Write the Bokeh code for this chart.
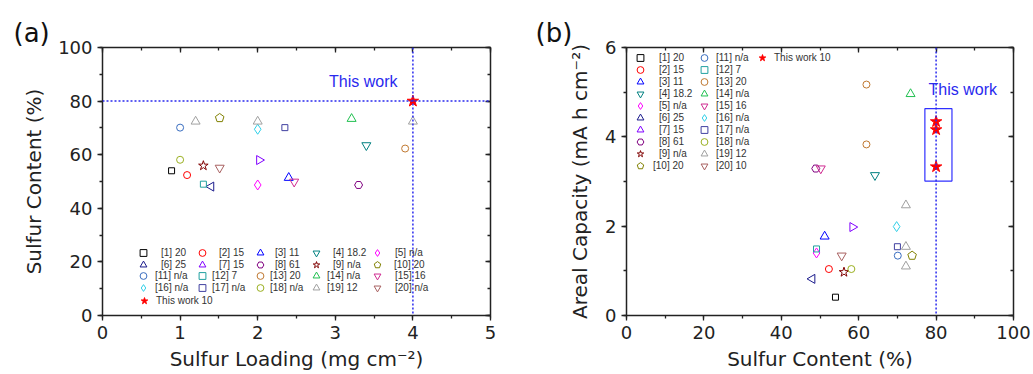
import numpy as np
from bokeh.plotting import figure
from bokeh.models import (Range1d, LinearAxis, SingleIntervalTicker, Span, Label,
                          Legend, LegendItem, CustomJSTickFormatter, Title)
from bokeh.layouts import row
from bokeh.embed import file_html
from bokeh.resources import INLINE

# ---------------- data ----------------
labels_a = ["[1] 20", "[2] 15", "[3] 11", "[4] 18.2", "[5] n/a",
            "[6] 25", "[7] 15", "[8] 61", "[9] n/a", "[10] 20",
            "[11] n/a", "[12] 7", "[13] 20", "[14] n/a", "[15] 16",
            "[16] n/a", "[17] n/a", "[18] n/a", "[19] 12", "[20] n/a"]
labels_b = ["[1] 20", "[2] 15", "[3] 11", "[4] 18.2", "[5] n/a",
            "[6] 25", "[7] 15", "[8] 61", "[9] n/a", "[10] 20",
            "[11] n/a", "[12] 7", "[13] 20", "[14] n/a", "[15] 16",
            "[16] n/a", "[17] n/a", "[18] n/a", "[19] 12", "[20] 10"]
this_work_label = "This work 10"

markers = ["square", "circle", "triangle", "inverted_triangle", "diamond",
           "triangle_left", "triangle_right", "hex", "star", "pentagon",
           "circle", "square", "circle", "triangle", "inverted_triangle",
           "diamond", "square", "circle", "triangle", "inverted_triangle"]
colors = ["#000000", "#FF0000", "#0000FF", "#008080", "#FF00FF",
          "#1A1A8C", "#8000FF", "#800080", "#800000", "#808000",
          "#3A6EC0", "#20A0A0", "#C07830", "#20C050", "#D02A90",
          "#30D0E8", "#4040A0", "#9AB020", "#A0A0A0", "#A86060"]

# panel (a): sulfur loading (mg cm-2) vs sulfur content (%)
loading_a = [[0.89], [1.09], [2.40], [3.40], [2.00],
             [1.40], [2.02], [3.30], [1.30], [1.51],
             [1.00], [1.30], [3.90], [3.21], [2.47],
             [2.00], [2.35], [1.00], [1.20, 2.00, 4.00], [1.51]]
content_a = [[54.0], [52.4], [51.4], [63.5], [48.7],
             [48.1], [58.0], [48.7], [55.9], [73.7],
             [70.1], [49.0], [62.3], [73.4], [49.9],
             [69.5], [70.1], [58.1], [72.4, 72.4, 72.4], [55.1]]
tw_loading = [4.0]
tw_content_a = [80.0]

# panel (b): sulfur content (%) vs areal capacity (mA h cm-2)
content_b = [[54.0], [52.3], [51.2], [64.2], [49.1],
             [48.0], [58.4], [48.9], [56.2], [73.8],
             [70.1], [49.1], [62.0, 62.0], [73.4], [50.2],
             [69.8], [70.0], [58.1], [72.2, 72.2, 72.2], [55.6]]
capacity_b = [[0.41], [1.04], [1.77], [3.14], [1.40],
              [0.82], [1.98], [3.29], [0.97], [1.34],
              [1.34], [1.49], [5.17, 3.83], [4.96], [3.29],
              [1.99], [1.54], [1.04], [2.47, 1.54, 1.10], [1.34]]
tw_content_b = [80.0, 80.0, 80.0]
tw_capacity = [4.34, 4.16, 3.33]
tw_box_x = [77.1, 84.1]
tw_box_y = [3.01, 4.63]

ref_loading_line = 4.0
ref_content_line = 80.0

# ---------------- styling ----------------
TICK_FONT = "DejaVu Sans"
AX_COLOR = "#222222"
BLUE = "#2A2AEE"
SIZES = {"square": 6, "circle": 7, "triangle": 9, "inverted_triangle": 9,
         "diamond": 10, "triangle_left": 9, "triangle_right": 9, "hex": 8,
         "star": 10, "pentagon": 8}


def add_series(p, xs, ys, kind, color):
    size = SIZES[kind]
    if kind == "pentagon":
        try:
            return p.ngon(x=xs, y=ys, radius=4.5, radius_units="screen", n=5,
                          fill_color=None, line_color=color, line_width=1)
        except Exception:
            kind = "hex"
    angle = 0.0
    mk = kind
    if kind == "triangle_left":
        mk, angle = "triangle", np.pi / 2
    elif kind == "triangle_right":
        mk, angle = "triangle", -np.pi / 2
    return p.scatter(x=xs, y=ys, marker=mk, size=size, angle=angle,
                     fill_color=None, line_color=color, line_width=1)


def style_axis(ax, inner=False):
    ax.axis_line_color = AX_COLOR
    ax.axis_line_width = 1.5
    ax.major_tick_line_color = AX_COLOR
    ax.minor_tick_line_color = AX_COLOR
    ax.major_tick_line_width = 1.3
    ax.minor_tick_line_width = 1.3
    if inner:
        ax.major_tick_in, ax.major_tick_out = 5, 0
        ax.minor_tick_in, ax.minor_tick_out = 3, 0
        ax.formatter = CustomJSTickFormatter(code="return ''")
        ax.major_label_text_font_size = "6px"
        ax.major_label_standoff = 0
    else:
        ax.major_tick_in, ax.major_tick_out = 0, 5
        ax.minor_tick_in, ax.minor_tick_out = 0, 3
        ax.major_label_text_font = TICK_FONT
        ax.major_label_text_font_size = "18px"
        ax.major_label_text_color = AX_COLOR
        ax.axis_label_text_font = TICK_FONT
        ax.axis_label_text_font_size = "20px"
        ax.axis_label_text_font_style = "normal"
        ax.axis_label_text_color = AX_COLOR


def make_fig(xr, yr, xint, yint, width, mbl, mbr, mbt, mbb, xlabel, ylabel, tag, tag_off):
    p = figure(width=width, height=374, x_range=Range1d(*xr), y_range=Range1d(*yr),
               output_backend="svg", toolbar_location=None,
               min_border_left=mbl, min_border_right=mbr,
               min_border_top=mbt, min_border_bottom=mbb)
    p.title = Title(text=tag, align="left", offset=tag_off, standoff=0,
                    text_font=TICK_FONT, text_font_size="26px", text_font_style="normal",
                    text_color="#111111")
    p.grid.visible = False
    p.outline_line_color = None
    p.xaxis.ticker = SingleIntervalTicker(interval=xint, num_minor_ticks=2)
    p.yaxis.ticker = SingleIntervalTicker(interval=yint, num_minor_ticks=2)
    style_axis(p.xaxis[0])
    style_axis(p.yaxis[0])
    p.xaxis.major_label_standoff = 5
    p.yaxis.major_label_standoff = 5
    p.xaxis.axis_label = xlabel
    p.xaxis.axis_label_standoff = 5
    p.yaxis.axis_label = ylabel
    top = LinearAxis(ticker=SingleIntervalTicker(interval=xint, num_minor_ticks=2))
    right = LinearAxis(ticker=SingleIntervalTicker(interval=yint, num_minor_ticks=2))
    style_axis(top, inner=True)
    style_axis(right, inner=True)
    p.add_layout(top, "above")
    p.add_layout(right, "right")
    return p


def add_entry(p, item, frame_left, frame_bottom, mx, my, tx):
    """One legend entry: marker centred at screen (mx, my), label starting at tx."""
    gw, gh = 18, 17
    leg = Legend(items=[item], location=(int(round(mx - gw / 2 - frame_left)),
                                         int(round(frame_bottom - my - gh / 2))),
                 orientation="vertical",
                 glyph_width=gw, glyph_height=gh, label_height=12, label_width=10,
                 label_standoff=int(round(tx - mx - gw / 2)), spacing=0, padding=0, margin=0,
                 background_fill_alpha=0, border_line_color=None,
                 label_text_font="Liberation Sans", label_text_font_size="10px",
                 label_text_color="#333333")
    p.add_layout(leg)


# ---------------- panel (a) ----------------
WA = 530
FA_L, FA_B = 102, 315
pa = make_fig((0, 5), (0, 100), 1, 20, WA, FA_L, WA - 490, 45, 374 - FA_B,
              "Sulfur Loading (mg cm\u207b\u00b2)", "Sulfur Content (%)", "(a)", -89)
pa.yaxis[0].axis_label_standoff = 9
pa.add_layout(Span(location=ref_content_line, dimension="width", line_color=BLUE,
                   line_dash="2 2", line_width=1.5))
pa.add_layout(Span(location=ref_loading_line, dimension="height", line_color=BLUE,
                   line_dash="2 2", line_width=1.5))
rend_a = [add_series(pa, loading_a[i], content_a[i], markers[i], colors[i]) for i in range(20)]
tw_a = pa.scatter(x=tw_loading, y=tw_content_a, marker="star", size=12,
                  fill_color="#FF0000", line_color="#FF0000")

leg_a_mx = [143.3, 201.7, 260.0, 315.7, 376.7]
leg_a_my = [252.7, 264.3, 275.7, 287.3, 300.0]
leg_a_tx = [[161.7, 218.3, 275.0, 332.7, 395.0],
            [161.7, 218.3, 275.0, 332.7, 393.3],
            [155.0, 211.7, 270.0, 326.7, 395.0],
            [155.0, 211.7, 270.0, 326.7, 395.0]]
for i in range(20):
    r, c = divmod(i, 5)
    add_entry(pa, LegendItem(label=labels_a[i], renderers=[rend_a[i]]), FA_L, FA_B,
              leg_a_mx[c], leg_a_my[r], leg_a_tx[r][c])
add_entry(pa, LegendItem(label=this_work_label, renderers=[tw_a]), FA_L, FA_B,
          144.0, leg_a_my[4], 156.0)
pa.add_layout(Label(x=2.92, y=87.3, text="This work", text_baseline="middle",
                    text_font="Liberation Sans", text_font_size="16px", text_color=BLUE))

# ---------------- panel (b) ----------------
FB_L, FB_B = 626 - WA, 316
pb = make_fig((0, 100), (0, 6), 20, 2, 1033 - WA, FB_L, 20, 47, 374 - FB_B,
              "Sulfur Content (%)", "Areal Capacity (mA h cm\u207b\u00b2)", "(b)", -91)
pb.yaxis[0].axis_label_standoff = 10
pb.add_layout(Span(location=ref_content_line, dimension="height", line_color=BLUE,
                   line_dash="2 2", line_width=1.5))
rend_b = [add_series(pb, content_b[i], capacity_b[i], markers[i], colors[i]) for i in range(20)]
pb.quad(left=[tw_box_x[0]], right=[tw_box_x[1]], bottom=[tw_box_y[0]], top=[tw_box_y[1]],
        fill_color=None, line_color="#3030FF", line_width=1.2)
tw_b = pb.scatter(x=tw_content_b, y=tw_capacity, marker="star", size=12,
                  fill_color="#FF0000", line_color="#FF0000")

PB_X0 = WA + FB_L  # screen x of frame left inside the page
leg_b_my = [58.3 + 12.04 * k for k in range(10)]
for i in range(20):
    c, r = divmod(i, 10)
    mx = 640.0 if c == 0 else 704.3
    tx = (653.3 if i == 9 else 659.0) if c == 0 else 716.0
    add_entry(pb, LegendItem(label=labels_b[i], renderers=[rend_b[i]]), PB_X0, FB_B,
              mx, leg_b_my[r], tx)
add_entry(pb, LegendItem(label=this_work_label, renderers=[tw_b]), PB_X0, FB_B,
          761.7, leg_b_my[0], 773.3)
pb.add_layout(Label(x=78.05, y=5.07, text="This work", text_baseline="middle",
                    text_font="Liberation Sans", text_font_size="16px", text_color=BLUE))

layout = row(pa, pb)
open("out.html", "w").write(file_html(layout, INLINE))
